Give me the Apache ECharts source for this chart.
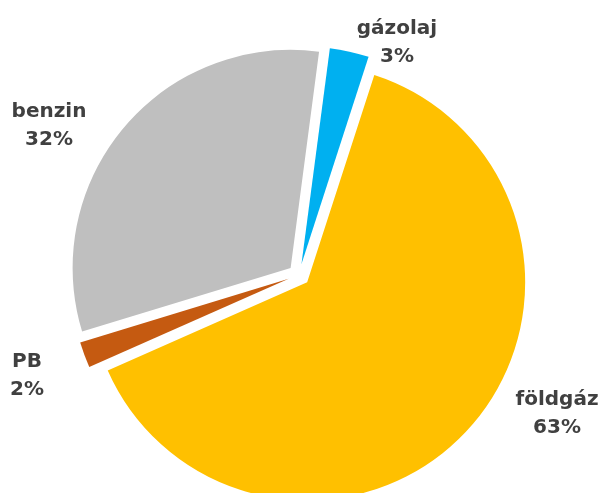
<!DOCTYPE html>
<html>
<head>
<meta charset="utf-8">
<script src="https://cdn.jsdelivr.net/npm/echarts@6/dist/echarts.min.js"></script>
<style>
  html, body { margin: 0; padding: 0; background: #fff; }
  #main { width: 603px; height: 493px; }
</style>
</head>
<body>
<div id="main"></div>
<script>
// data
var names = ['gázolaj', 'földgáz', 'PB', 'benzin'];
var values = [2.9, 63.4, 1.9, 31.8];
var colors = ['#00B0F0', '#FFC000', '#C55A11', '#BFBFBF'];

// label centres (layout only)
var labelPos = [[397, 43], [557, 414], [27, 376], [49, 126]];

var total = values.reduce(function (a, b) { return a + b; }, 0);

var chart = echarts.init(document.getElementById('main'));

var option = {
    animation: false,
    series: [{
        type: 'pie',
        center: [299, 275],
        radius: 218,
        startAngle: 82.5,
        clockwise: true,
        selectedMode: 'multiple',
        selectedOffset: 11,
        emphasis: { scale: false },
        label: { show: false },
        labelLine: { show: false },
        data: names.map(function (n, i) {
            return {
                name: n,
                value: values[i],
                selected: true,
                itemStyle: { color: colors[i] }
            };
        })
    }],
    // data labels, placed like the original's
    graphic: names.map(function (n, i) {
        return {
            type: 'text',
            x: labelPos[i][0],
            y: labelPos[i][1],
            style: {
                text: n + '\n' + Math.round(values[i] / total * 100) + '%',
                font: 'bold 20px "DejaVu Sans"',
                lineHeight: 28,
                fill: '#404040',
                align: 'center',
                verticalAlign: 'middle',
                textAlign: 'center',
                textVerticalAlign: 'middle'
            }
        };
    })
};

chart.setOption(option);
</script>
</body>
</html>
